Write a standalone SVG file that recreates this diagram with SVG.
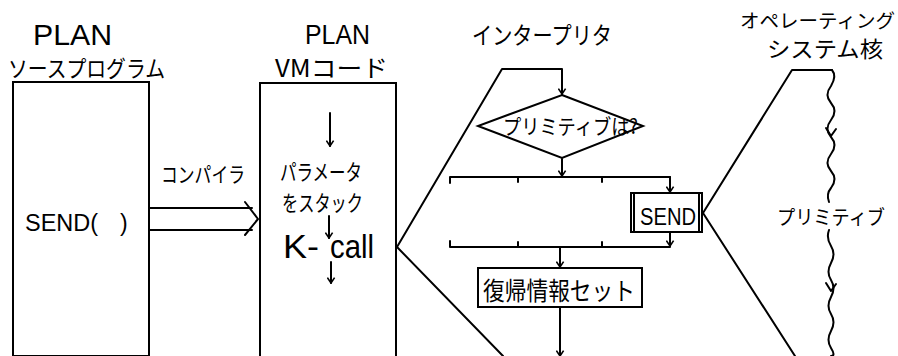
<svg xmlns="http://www.w3.org/2000/svg" width="898" height="356" viewBox="0 0 898 356">
<defs>
<style>
.ln{fill:none;stroke:#000;stroke-width:2;stroke-linejoin:round;stroke-linecap:round}
.bx{fill:#fff;stroke:#000;stroke-width:2}
.t{font-family:"Noto Sans CJK JP","Liberation Sans",sans-serif;fill:#000}
.e{font-family:"Liberation Sans","Noto Sans CJK JP",sans-serif;fill:#000}
</style>
<marker id="ah" viewBox="0 0 10 10" refX="9" refY="5" markerWidth="9" markerHeight="9" markerUnits="userSpaceOnUse" orient="auto">
<path d="M3,1 L9,5 L3,9" fill="none" stroke="#000" stroke-width="1.8"/>
</marker>
</defs>
<rect width="898" height="356" fill="#fff"/>

<g id="source">
<text class="e" x="33" y="45" font-size="29" textLength="79" lengthAdjust="spacingAndGlyphs">PLAN</text>
<text class="t" x="8" y="77" font-size="23" textLength="157" lengthAdjust="spacingAndGlyphs">ソースプログラム</text>
<rect class="bx" x="13" y="82" width="136" height="274"/>
<text class="e" x="25" y="231" font-size="23" textLength="73" lengthAdjust="spacingAndGlyphs">SEND(</text>
<text class="e" x="120" y="231" font-size="23">)</text>
</g>

<g id="vmcode">
<text class="e" x="305" y="44" font-size="27" textLength="65" lengthAdjust="spacingAndGlyphs">PLAN</text>
<text class="t" x="275" y="77" font-size="24" textLength="113" lengthAdjust="spacingAndGlyphs">VMコード</text>
<rect class="bx" x="260" y="83" width="136" height="274"/>
<text class="t" x="280" y="180" font-size="22" textLength="82" lengthAdjust="spacingAndGlyphs">パラメータ</text>
<text class="t" x="282" y="211" font-size="22" textLength="81" lengthAdjust="spacingAndGlyphs">をスタック</text>
<text class="e" x="283" y="258" font-size="33" textLength="36" lengthAdjust="spacingAndGlyphs">K-</text>
<text class="e" x="330" y="258" font-size="33" textLength="44" lengthAdjust="spacingAndGlyphs">call</text>
</g>

<g id="interpreter">
<text class="t" x="472" y="44" font-size="24" textLength="140" lengthAdjust="spacingAndGlyphs">インタープリタ</text>
<polygon class="bx" points="562,95 643,126 562,158 478,126"/>
<text class="t" x="503" y="134" font-size="21" textLength="135" lengthAdjust="spacingAndGlyphs">プリミティブは?</text>
</g>

<g id="send">
<rect class="bx" x="631" y="193" width="71" height="39"/>
<line class="ln" x1="634" y1="193" x2="634" y2="232" stroke-width="1.5"/>
<line class="ln" x1="699" y1="193" x2="699" y2="232" stroke-width="1.2"/>
<text class="e" x="640" y="225" font-size="23" textLength="56" lengthAdjust="spacingAndGlyphs">SEND</text>
</g>

<g id="restore">
<rect class="bx" x="478" y="268" width="164" height="39"/>
<text class="t" x="483" y="300" font-size="25" textLength="152" lengthAdjust="spacingAndGlyphs">復帰情報セット</text>
</g>

<g id="oskernel">
<text class="t" x="740" y="28" font-size="19" textLength="155" lengthAdjust="spacingAndGlyphs">オペレーティング</text>
<text class="t" x="767" y="57" font-size="22" textLength="116" lengthAdjust="spacingAndGlyphs">システム核</text>
<text class="t" x="777" y="225" font-size="20" textLength="108" lengthAdjust="spacingAndGlyphs">プリミティブ</text>
</g>

<g id="connectors">
<path class="ln" d="M150,208 H252 M150,230 H252 M245,202 L258,219 L245,235"/>
<text class="t" x="161" y="182" font-size="21" textLength="84" lengthAdjust="spacingAndGlyphs">コンパイラ</text>
<line class="ln" x1="330" y1="113" x2="330" y2="146" marker-end="url(#ah)"/>
<line class="ln" x1="329" y1="216" x2="329" y2="238" marker-end="url(#ah)"/>
<line class="ln" x1="331" y1="262" x2="331" y2="283" marker-end="url(#ah)"/>
<path class="ln" d="M503,356 L397,247 L502,69 H562 V94" marker-end="url(#ah)"/>
<line class="ln" x1="562" y1="159" x2="562" y2="176" marker-end="url(#ah)"/>
<path class="ln" d="M450,183 V177 H670 M518,177 V182 M602,177 V182"/>
<line class="ln" x1="670" y1="177" x2="670" y2="192" marker-end="url(#ah)"/>
<path class="ln" d="M450,241 V247 H670 M518,247 V242 M602,247 V242"/>
<line class="ln" x1="670" y1="232" x2="670" y2="246" marker-end="url(#ah)"/>
<line class="ln" x1="560" y1="247" x2="560" y2="267" marker-end="url(#ah)"/>
<line class="ln" x1="560" y1="307" x2="560" y2="356" marker-end="url(#ah)"/>
<path class="ln" d="M795,356 L703,213 L792,70 H832"/>
<path class="ln" stroke-width="1.8" d="M832,70 Q837,76 831,86 Q824,95 831,103 T831,120 T831,137 T831,154 T831,171 T831,188 Q826,194 829,202"/>
<path class="ln" stroke-width="1.8" d="M829,230 Q826,238 831,246 T831,263 T831,280 T831,297 T831,314 T831,331 T831,348 T831,356"/>
<path class="ln" stroke-width="1.6" d="M826,128 L831,136 L836,129"/>
<path class="ln" stroke-width="1.6" d="M826,283 L831,291 L836,284"/>
</g>
</svg>
